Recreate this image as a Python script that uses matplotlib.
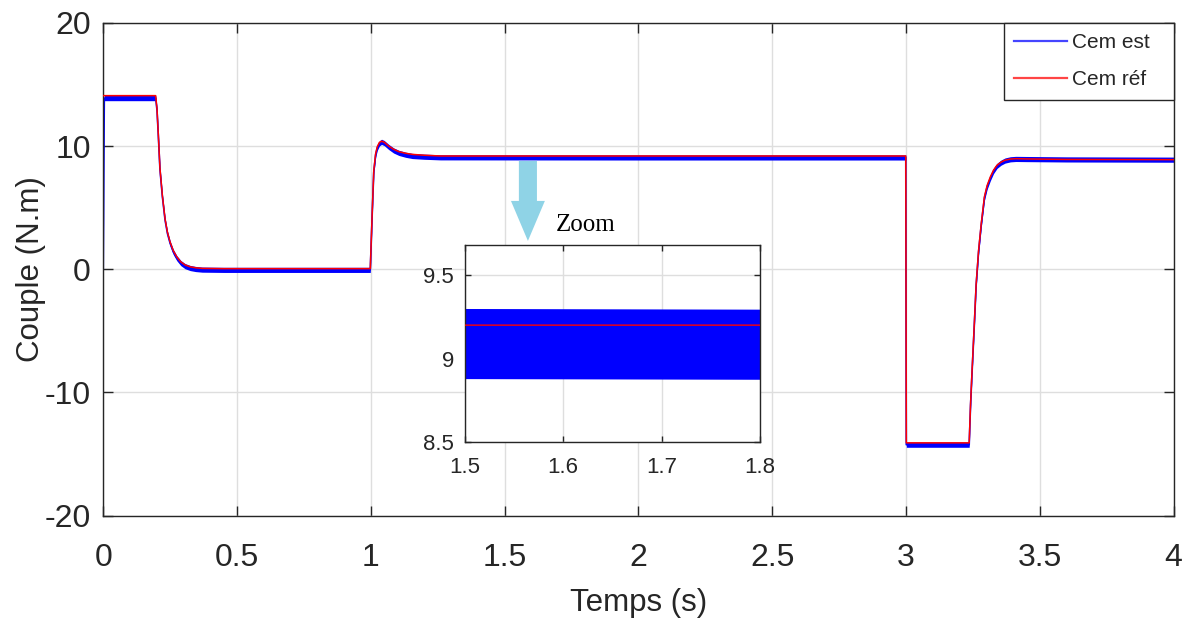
import numpy as np
import matplotlib.pyplot as plt
from matplotlib.lines import Line2D

plt.rcParams['font.family'] = ['Liberation Sans', 'DejaVu Sans']
plt.rcParams['axes.unicode_minus'] = False

temps = [0.0, 0.004, 0.196, 0.201, 0.206, 0.212, 0.221, 0.231, 0.240, 0.250, 0.262, 0.275, 0.290,
         0.306, 0.325, 0.345, 0.370, 0.45,
         0.998, 1.005, 1.011, 1.018, 1.024, 1.032, 1.040, 1.050, 1.067, 1.085, 1.105, 1.13, 1.155,
         1.2, 1.26, 2.0,
         2.999, 3.001, 3.236, 3.241, 3.246, 3.255, 3.262, 3.271, 3.281, 3.293, 3.303, 3.315, 3.327,
         3.34, 3.355, 3.37, 3.39, 3.41, 3.45, 3.6, 4.0]
cem_ref = [14.1, 14.1, 14.1, 13.0, 10.9, 8.2, 6.0, 4.1, 3.0, 2.2, 1.5, 1.0, 0.6,
           0.35, 0.2, 0.12, 0.07, 0.05,
           0.05, 4.5, 8.0, 9.4, 9.95, 10.3, 10.4, 10.32, 10.0, 9.75, 9.55, 9.42, 9.33,
           9.26, 9.2, 9.2,
           9.2, -14.1, -14.1, -11.0, -8.55, -4.5, -1.2, 1.5, 3.7, 5.9, 6.8, 7.5, 8.05,
           8.45, 8.7, 8.86, 8.95, 8.98, 8.96, 8.92, 8.9]
cem_est = [0.0, 13.9, 13.9, 12.9, 10.8, 8.1, 5.9, 4.0, 2.9, 2.1, 1.4, 0.9, 0.5,
           0.25, 0.1, 0.02, -0.03, -0.05,
           -0.05, 4.4, 7.9, 9.3, 9.85, 10.22, 10.35, 10.25, 9.93, 9.65, 9.45, 9.3, 9.2,
           9.14, 9.09, 9.08,
           9.08, -14.25, -14.25, -11.1, -8.7, -4.6, -1.3, 1.4, 3.6, 5.8, 6.7, 7.4, 7.98,
           8.4, 8.66, 8.83, 8.93, 8.96, 8.95, 8.92, 8.9]
ondulation = 0.21  # demi-amplitude des oscillations du couple estime

xticks = [0, 0.5, 1, 1.5, 2, 2.5, 3, 3.5, 4]
yticks = [-20, -10, 0, 10, 20]
zoom_xticks = [1.5, 1.6, 1.7, 1.8]
zoom_yticks = [8.5, 9, 9.5]

t = np.array(temps)
est = np.array(cem_est)
ref = np.array(cem_ref)

txt = '#262626'
grille = '#dedede'


def trace(ax, lw_ref):
    ax.fill_between(t, est - ondulation, est + ondulation, color='blue', lw=0, zorder=2)
    ax.plot(t, est, color='blue', lw=1.2, zorder=2)
    ax.plot(t, ref, color='red', lw=lw_ref, zorder=3)


fig = plt.figure(figsize=(11.92, 6.25), dpi=100)
ax = fig.add_axes([0.0866, 0.1752, 0.898, 0.788])
trace(ax, 1.1)
ax.set_xlim(0, 4)
ax.set_ylim(-20, 20)
ax.set_xticks(xticks)
ax.set_xticklabels(['0', '0.5', '1', '1.5', '2', '2.5', '3', '3.5', '4'])
ax.set_yticks(yticks)
ax.grid(True, color=grille, lw=1.0, zorder=0)
ax.set_axisbelow(True)
ax.tick_params(direction='in', length=7, width=1.0, top=True, right=True, colors=txt,
               labelsize=23)
ax.tick_params(axis='x', pad=20)
ax.tick_params(axis='y', pad=9)
for s in ax.spines.values():
    s.set_color(txt)
    s.set_linewidth(1.0)
ax.set_xlabel('Temps (s)', fontsize=22.5, color=txt)
ax.set_ylabel('Couple (N.m)', fontsize=22.5, color=txt)
ax.xaxis.set_label_coords(0.5, -0.147)
ax.xaxis.label.set_va('top')
ax.yaxis.set_label_coords(-0.053, 0.5)

# legende collee au coin haut droit, plus large que son contenu
poignees = [Line2D([], [], color='#4545ff', lw=1.6), Line2D([], [], color='#ff4545', lw=1.6)]
larg = 170 / 1070.4
leg = ax.legend(poignees, ['Cem est', 'Cem réf'], loc='upper right', borderaxespad=0,
                bbox_to_anchor=(1 - larg, 0, larg, 1), mode='expand',
                fontsize=15, fancybox=False, framealpha=1, edgecolor=txt,
                handlelength=2.55, handletextpad=0.25, labelspacing=0.85, borderpad=0.5)
leg.get_frame().set_linewidth(1.0)
for tx in leg.get_texts():
    tx.set_color(txt)

# fleche vers le zoom
ax.annotate('', xy=(1.587, 2.3), xytext=(1.587, 8.8),
            arrowprops=dict(arrowstyle='simple,head_length=1.44,head_width=1.22,tail_width=0.65',
                            color='#8fd3e6', mutation_scale=20, shrinkA=0, shrinkB=0, lw=0),
            zorder=4)
ax.text(1.69, 3.6, 'Zoom', fontsize=18, family='Liberation Serif', va='center', ha='left',
        color='black')

# zoom sur le regime permanent
axz = fig.add_axes([0.390, 0.2928, 0.2475, 0.3152])
trace(axz, 1.0)
axz.set_xlim(1.5, 1.8)
axz.set_ylim(8.5, 9.68)
axz.set_xticks(zoom_xticks)
axz.set_yticks(zoom_yticks)
axz.set_xticklabels(['1.5', '1.6', '1.7', '1.8'])
axz.set_yticklabels(['8.5', '9', '9.5'])
axz.grid(True, color=grille, lw=1.0, zorder=0)
axz.set_axisbelow(True)
axz.tick_params(direction='in', length=4, width=1.0, top=True, right=True, colors=txt,
                labelsize=16)
axz.tick_params(axis='x', pad=11)
axz.tick_params(axis='y', pad=8)
for s in axz.spines.values():
    s.set_color(txt)
    s.set_linewidth(1.0)

fig.savefig('out.png', dpi=100)
